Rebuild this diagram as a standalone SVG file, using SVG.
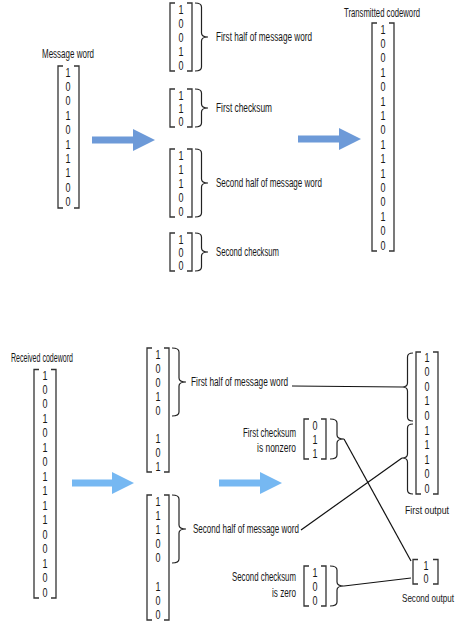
<svg xmlns="http://www.w3.org/2000/svg" width="463" height="639" viewBox="0 0 463 639">
<style>
text{font-family:"Liberation Sans",Arial,sans-serif;fill:#161616}
.lbl{font-size:12px}
.sm{font-size:11px}
.r{text-anchor:end}
.m{opacity:0.99}
.m text{font-size:12.5px;text-anchor:middle}
.br{fill:none;stroke:#333;stroke-width:1.3}
.bc{fill:none;stroke:#222;stroke-width:1.2}
.ln{fill:none;stroke:#111;stroke-width:1.2}
.a1{fill:#6d9ad8}
.a2{fill:#76b8f2}
</style>
<rect width="463" height="639" fill="#fff"/>

<g id="message-word">
<text class="lbl" x="42" y="58" textLength="52" lengthAdjust="spacingAndGlyphs">Message word</text>
<path class="br" d="M63,66 H58 V208 H63 M74,66 H79 V208 H74"/>
<g class="m">
<text x="68" y="76.5" textLength="5" lengthAdjust="spacingAndGlyphs">1</text>
<text x="68" y="90.9" textLength="5" lengthAdjust="spacingAndGlyphs">0</text>
<text x="68" y="105.3" textLength="5" lengthAdjust="spacingAndGlyphs">0</text>
<text x="68" y="119.7" textLength="5" lengthAdjust="spacingAndGlyphs">1</text>
<text x="68" y="134.1" textLength="5" lengthAdjust="spacingAndGlyphs">0</text>
<text x="68" y="148.5" textLength="5" lengthAdjust="spacingAndGlyphs">1</text>
<text x="68" y="162.9" textLength="5" lengthAdjust="spacingAndGlyphs">1</text>
<text x="68" y="177.3" textLength="5" lengthAdjust="spacingAndGlyphs">1</text>
<text x="68" y="191.7" textLength="5" lengthAdjust="spacingAndGlyphs">0</text>
<text x="68" y="206.1" textLength="5" lengthAdjust="spacingAndGlyphs">0</text>
</g>
</g>

<g id="arrow-top-1"><path class="a1" d="M92,136.5 H133 V129 L155,140 L133,151 V143.5 H92 Z"/></g>

<g id="first-half-top">
<path class="br" d="M175,3 H170 V71 H175 M187,3 H192 V71 H187"/>
<g class="m">
<text x="181" y="13.5" textLength="5" lengthAdjust="spacingAndGlyphs">1</text>
<text x="181" y="27.5" textLength="5" lengthAdjust="spacingAndGlyphs">0</text>
<text x="181" y="41.5" textLength="5" lengthAdjust="spacingAndGlyphs">0</text>
<text x="181" y="55.5" textLength="5" lengthAdjust="spacingAndGlyphs">1</text>
<text x="181" y="69.5" textLength="5" lengthAdjust="spacingAndGlyphs">0</text>
</g>
<path class="bc" d="M195,3 Q201.5,3 201.5,7 L201.5,33 Q201.5,37 208,37 Q201.5,37 201.5,41 L201.5,67 Q201.5,71 195,71"/>
<text class="lbl" x="216" y="41" textLength="96" lengthAdjust="spacingAndGlyphs">First half of message word</text>
</g>

<g id="first-checksum-top">
<path class="br" d="M175,89 H170 V127 H175 M187,89 H192 V127 H187"/>
<g class="m">
<text x="181" y="99.5" textLength="5" lengthAdjust="spacingAndGlyphs">1</text>
<text x="181" y="112.5" textLength="5" lengthAdjust="spacingAndGlyphs">1</text>
<text x="181" y="125.5" textLength="5" lengthAdjust="spacingAndGlyphs">0</text>
</g>
<path class="bc" d="M195,89 Q201.5,89 201.5,93 L201.5,104 Q201.5,108 208,108 Q201.5,108 201.5,112 L201.5,123 Q201.5,127 195,127"/>
<text class="lbl" x="216" y="112" textLength="56" lengthAdjust="spacingAndGlyphs">First checksum</text>
</g>

<g id="second-half-top">
<path class="br" d="M175,149 H170 V217 H175 M187,149 H192 V217 H187"/>
<g class="m">
<text x="181" y="159.5" textLength="5" lengthAdjust="spacingAndGlyphs">1</text>
<text x="181" y="173.5" textLength="5" lengthAdjust="spacingAndGlyphs">1</text>
<text x="181" y="187.5" textLength="5" lengthAdjust="spacingAndGlyphs">1</text>
<text x="181" y="201.5" textLength="5" lengthAdjust="spacingAndGlyphs">0</text>
<text x="181" y="215.5" textLength="5" lengthAdjust="spacingAndGlyphs">0</text>
</g>
<path class="bc" d="M195,149 Q201.5,149 201.5,153 L201.5,179 Q201.5,183 208,183 Q201.5,183 201.5,187 L201.5,213 Q201.5,217 195,217"/>
<text class="lbl" x="216" y="187" textLength="106" lengthAdjust="spacingAndGlyphs">Second half of message word</text>
</g>

<g id="second-checksum-top">
<path class="br" d="M175,233 H170 V271 H175 M187,233 H192 V271 H187"/>
<g class="m">
<text x="181" y="243.5" textLength="5" lengthAdjust="spacingAndGlyphs">1</text>
<text x="181" y="256.5" textLength="5" lengthAdjust="spacingAndGlyphs">0</text>
<text x="181" y="269.5" textLength="5" lengthAdjust="spacingAndGlyphs">0</text>
</g>
<path class="bc" d="M195,233 Q201.5,233 201.5,237 L201.5,248 Q201.5,252 208,252 Q201.5,252 201.5,256 L201.5,267 Q201.5,271 195,271"/>
<text class="lbl" x="216" y="256" textLength="63" lengthAdjust="spacingAndGlyphs">Second checksum</text>
</g>

<g id="arrow-top-2"><path class="a1" d="M298,135.5 H339 V128 L361,139 L339,150 V142.5 H298 Z"/></g>

<g id="transmitted-codeword">
<text class="lbl" x="344" y="17" textLength="76" lengthAdjust="spacingAndGlyphs">Transmitted codeword</text>
<path class="br" d="M377,23 H372 V251 H377 M389,23 H394 V251 H389"/>
<g class="m">
<text x="383" y="33.5" textLength="5" lengthAdjust="spacingAndGlyphs">1</text>
<text x="383" y="47.9" textLength="5" lengthAdjust="spacingAndGlyphs">0</text>
<text x="383" y="62.3" textLength="5" lengthAdjust="spacingAndGlyphs">0</text>
<text x="383" y="76.7" textLength="5" lengthAdjust="spacingAndGlyphs">1</text>
<text x="383" y="91.1" textLength="5" lengthAdjust="spacingAndGlyphs">0</text>
<text x="383" y="105.5" textLength="5" lengthAdjust="spacingAndGlyphs">1</text>
<text x="383" y="119.9" textLength="5" lengthAdjust="spacingAndGlyphs">1</text>
<text x="383" y="134.3" textLength="5" lengthAdjust="spacingAndGlyphs">0</text>
<text x="383" y="148.7" textLength="5" lengthAdjust="spacingAndGlyphs">1</text>
<text x="383" y="163.1" textLength="5" lengthAdjust="spacingAndGlyphs">1</text>
<text x="383" y="177.5" textLength="5" lengthAdjust="spacingAndGlyphs">1</text>
<text x="383" y="191.9" textLength="5" lengthAdjust="spacingAndGlyphs">0</text>
<text x="383" y="206.3" textLength="5" lengthAdjust="spacingAndGlyphs">0</text>
<text x="383" y="220.7" textLength="5" lengthAdjust="spacingAndGlyphs">1</text>
<text x="383" y="235.1" textLength="5" lengthAdjust="spacingAndGlyphs">0</text>
<text x="383" y="249.5" textLength="5" lengthAdjust="spacingAndGlyphs">0</text>
</g>
</g>

<g id="received-codeword">
<text class="lbl" x="11" y="362" textLength="62" lengthAdjust="spacingAndGlyphs">Received codeword</text>
<path class="br" d="M39,369.5 H34 V598 H39 M51,369.5 H56 V598 H51"/>
<g class="m">
<text x="45" y="379.5" textLength="5" lengthAdjust="spacingAndGlyphs">1</text>
<text x="45" y="394" textLength="5" lengthAdjust="spacingAndGlyphs">0</text>
<text x="45" y="408.4" textLength="5" lengthAdjust="spacingAndGlyphs">0</text>
<text x="45" y="422.9" textLength="5" lengthAdjust="spacingAndGlyphs">1</text>
<text x="45" y="437.4" textLength="5" lengthAdjust="spacingAndGlyphs">0</text>
<text x="45" y="451.9" textLength="5" lengthAdjust="spacingAndGlyphs">1</text>
<text x="45" y="466.3" textLength="5" lengthAdjust="spacingAndGlyphs">0</text>
<text x="45" y="480.8" textLength="5" lengthAdjust="spacingAndGlyphs">1</text>
<text x="45" y="495.3" textLength="5" lengthAdjust="spacingAndGlyphs">1</text>
<text x="45" y="509.7" textLength="5" lengthAdjust="spacingAndGlyphs">1</text>
<text x="45" y="524.2" textLength="5" lengthAdjust="spacingAndGlyphs">1</text>
<text x="45" y="538.7" textLength="5" lengthAdjust="spacingAndGlyphs">0</text>
<text x="45" y="553.1" textLength="5" lengthAdjust="spacingAndGlyphs">0</text>
<text x="45" y="567.6" textLength="5" lengthAdjust="spacingAndGlyphs">1</text>
<text x="45" y="582.1" textLength="5" lengthAdjust="spacingAndGlyphs">0</text>
<text x="45" y="596.5" textLength="5" lengthAdjust="spacingAndGlyphs">0</text>
</g>
</g>

<g id="arrow-bottom-1"><path class="a2" d="M72,479.5 H112 V472 L134,483 L112,494 V486.5 H72 Z"/></g>

<g id="split-top">
<path class="br" d="M152,348 H147 V472 H152 M164,348 H169 V472 H164"/>
<g class="m">
<text x="158" y="358.5" textLength="5" lengthAdjust="spacingAndGlyphs">1</text>
<text x="158" y="372.5" textLength="5" lengthAdjust="spacingAndGlyphs">0</text>
<text x="158" y="386.5" textLength="5" lengthAdjust="spacingAndGlyphs">0</text>
<text x="158" y="400.5" textLength="5" lengthAdjust="spacingAndGlyphs">1</text>
<text x="158" y="414.5" textLength="5" lengthAdjust="spacingAndGlyphs">0</text>
<text x="158" y="442.5" textLength="5" lengthAdjust="spacingAndGlyphs">1</text>
<text x="158" y="456.5" textLength="5" lengthAdjust="spacingAndGlyphs">0</text>
<text x="158" y="470.5" textLength="5" lengthAdjust="spacingAndGlyphs">1</text>
</g>
<path class="bc" d="M172,348 Q179,348 179,352 L179,378 Q179,382 186,382 Q179,382 179,386 L179,412 Q179,416 172,416"/>
<text class="lbl" x="191" y="386" textLength="97" lengthAdjust="spacingAndGlyphs">First half of message word</text>
</g>

<g id="split-bottom">
<path class="br" d="M152,495 H147 V620 H152 M164,495 H169 V620 H164"/>
<g class="m">
<text x="158" y="505.5" textLength="5" lengthAdjust="spacingAndGlyphs">1</text>
<text x="158" y="519.5" textLength="5" lengthAdjust="spacingAndGlyphs">1</text>
<text x="158" y="533.5" textLength="5" lengthAdjust="spacingAndGlyphs">1</text>
<text x="158" y="547.5" textLength="5" lengthAdjust="spacingAndGlyphs">0</text>
<text x="158" y="561.5" textLength="5" lengthAdjust="spacingAndGlyphs">0</text>
<text x="158" y="590.5" textLength="5" lengthAdjust="spacingAndGlyphs">1</text>
<text x="158" y="604.5" textLength="5" lengthAdjust="spacingAndGlyphs">0</text>
<text x="158" y="618.5" textLength="5" lengthAdjust="spacingAndGlyphs">0</text>
</g>
<path class="bc" d="M172,495 Q179,495 179,499 L179,525 Q179,529 186,529 Q179,529 179,533 L179,559 Q179,563 172,563"/>
<text class="lbl" x="193" y="533" textLength="106" lengthAdjust="spacingAndGlyphs">Second half of message word</text>
</g>

<g id="arrow-bottom-2"><path class="a2" d="M219,479.5 H260 V472 L282,483 L260,494 V486.5 H219 Z"/></g>

<g id="first-checksum-bottom">
<text class="lbl r" x="296" y="437" textLength="53" lengthAdjust="spacingAndGlyphs">First checksum</text>
<text class="lbl r" x="296" y="452" textLength="39" lengthAdjust="spacingAndGlyphs">is nonzero</text>
<path class="br" d="M309,419 H304 V459 H309 M321,419 H326 V459 H321"/>
<g class="m">
<text x="315" y="429.5" textLength="5" lengthAdjust="spacingAndGlyphs">0</text>
<text x="315" y="443.5" textLength="5" lengthAdjust="spacingAndGlyphs">1</text>
<text x="315" y="457.5" textLength="5" lengthAdjust="spacingAndGlyphs">1</text>
</g>
<path class="bc" d="M330,419 Q337,419 337,423 L337,435 Q337,439 344,439 Q337,439 337,443 L337,455 Q337,459 330,459"/>
</g>

<g id="second-checksum-bottom">
<text class="lbl r" x="296" y="581" textLength="64" lengthAdjust="spacingAndGlyphs">Second checksum</text>
<text class="lbl r" x="296" y="597" textLength="24" lengthAdjust="spacingAndGlyphs">is zero</text>
<path class="br" d="M309,566 H304 V606 H309 M321,566 H326 V606 H321"/>
<g class="m">
<text x="315" y="576.5" textLength="5" lengthAdjust="spacingAndGlyphs">1</text>
<text x="315" y="590.5" textLength="5" lengthAdjust="spacingAndGlyphs">0</text>
<text x="315" y="604.5" textLength="5" lengthAdjust="spacingAndGlyphs">0</text>
</g>
<path class="bc" d="M330,566 Q337,566 337,570 L337,582 Q337,586 344,586 Q337,586 337,590 L337,602 Q337,606 330,606"/>
</g>

<g id="first-output">
<path class="bc" d="M413,353 Q407.5,353 407.5,357 L407.5,383 Q407.5,387 402,387 Q407.5,387 407.5,391 L407.5,417 Q407.5,421 413,421"/>
<path class="bc" d="M413,424 Q407.5,424 407.5,428 L407.5,454 Q407.5,458 402,458 Q407.5,458 407.5,462 L407.5,490 Q407.5,494 413,494"/>
<path class="br" d="M421,352 H416 V494 H421 M433,352 H438 V494 H433"/>
<g class="m">
<text x="427" y="361.5" textLength="5" lengthAdjust="spacingAndGlyphs">1</text>
<text x="427" y="376.1" textLength="5" lengthAdjust="spacingAndGlyphs">0</text>
<text x="427" y="390.7" textLength="5" lengthAdjust="spacingAndGlyphs">0</text>
<text x="427" y="405.3" textLength="5" lengthAdjust="spacingAndGlyphs">1</text>
<text x="427" y="419.9" textLength="5" lengthAdjust="spacingAndGlyphs">0</text>
<text x="427" y="434.5" textLength="5" lengthAdjust="spacingAndGlyphs">1</text>
<text x="427" y="449.1" textLength="5" lengthAdjust="spacingAndGlyphs">1</text>
<text x="427" y="463.7" textLength="5" lengthAdjust="spacingAndGlyphs">1</text>
<text x="427" y="478.3" textLength="5" lengthAdjust="spacingAndGlyphs">0</text>
<text x="427" y="492.9" textLength="5" lengthAdjust="spacingAndGlyphs">0</text>
</g>
<text class="sm" x="427" y="514" text-anchor="middle" textLength="44" lengthAdjust="spacingAndGlyphs">First output</text>
</g>

<g id="second-output">
<path class="br" d="M418,559.5 H413 V584 H418 M433,559.5 H438 V584 H433"/>
<g class="m">
<text x="426" y="569.5" textLength="5" lengthAdjust="spacingAndGlyphs">1</text>
<text x="426" y="582.5" textLength="5" lengthAdjust="spacingAndGlyphs">0</text>
</g>
<text class="sm" x="428" y="602" text-anchor="middle" textLength="52" lengthAdjust="spacingAndGlyphs">Second output</text>
</g>

<g id="connectors">
<path class="ln" d="M292,386 L402,387"/>
<path class="ln" d="M301,530 L402,458"/>
<path class="ln" d="M344,439 L411,561"/>
<path class="ln" d="M344,586 L411,578"/>
</g>
</svg>
